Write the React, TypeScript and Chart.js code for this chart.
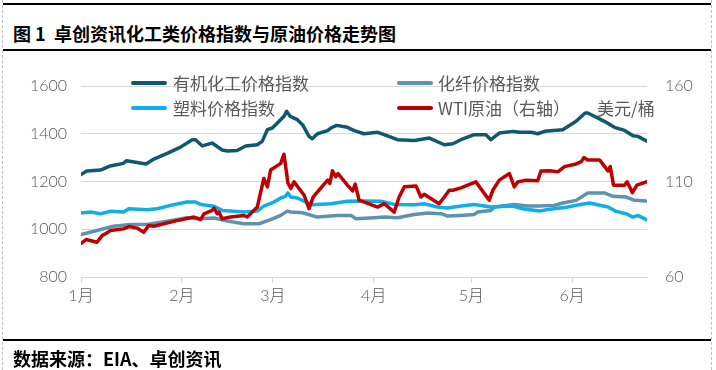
import React, { useEffect, useRef } from "react";
import { Chart, registerables } from "chart.js";

Chart.register(...registerables);

// x = days from the axis start (1月 tick)
const monthTicks = [0, 31, 59, 90, 120, 151];
const monthLabels = ["1月", "2月", "3月", "4月", "5月", "6月"];
const xMax = 174;

const organicDays = [0, 1.8, 6, 9, 13, 14, 20, 22.4, 26.5, 30.6, 34.2, 35.2, 37.3, 40.3, 43.4, 45, 48, 50.6, 54.2, 55.7, 57.3, 58.8, 60.9, 62.4, 63.2, 64.3, 66.5, 68.1, 70.1, 71.1, 72.7, 75.8, 76.8, 78.6, 81.9, 84, 87, 91.2, 93.2, 97.3, 102.5, 107.1, 111.7, 114.3, 116.8, 120.9, 124.5, 126, 128.6, 132.7, 134.8, 138.4, 140.4, 142.5, 148.1, 152.2, 155, 155.8, 160.9, 164, 167.1, 169.7, 171.2, 173.8];
const organicValues = [1229, 1244, 1248, 1265, 1276, 1287, 1273, 1294, 1318, 1344, 1375, 1375, 1349, 1361, 1332, 1328, 1330, 1349, 1354, 1368, 1417, 1424, 1452, 1473, 1494, 1473, 1459, 1438, 1389, 1379, 1400, 1413, 1424, 1435, 1427, 1413, 1400, 1406, 1396, 1375, 1372, 1382, 1354, 1358, 1375, 1396, 1396, 1375, 1403, 1410, 1406, 1406, 1400, 1410, 1417, 1452, 1487, 1487, 1452, 1427, 1414, 1392, 1389, 1370];

const fiberDays = [0, 4.9, 10, 15.2, 20.3, 26.5, 32.6, 36.8, 40.9, 45, 50.1, 54.7, 58.3, 61.4, 63.4, 64.5, 68.1, 72.7, 78.8, 83, 84.5, 90.1, 93.2, 97.3, 102.4, 106.6, 110.7, 112.7, 116.8, 120.9, 121.9, 126, 127.1, 133.2, 137.3, 140.9, 145.5, 148.1, 152.2, 155.8, 160.9, 163.5, 167.6, 170.2, 173.8];
const fiberValues = [978, 995, 1013, 1020, 1020, 1034, 1048, 1044, 1047, 1034, 1023, 1023, 1040, 1058, 1076, 1072, 1069, 1051, 1058, 1058, 1044, 1048, 1051, 1048, 1062, 1068, 1065, 1055, 1058, 1062, 1072, 1079, 1093, 1104, 1097, 1097, 1100, 1110, 1121, 1152, 1152, 1138, 1135, 1121, 1118];

const plasticDays = [0, 2.9, 6, 9, 13.1, 14.7, 20.3, 23.4, 28.5, 32.6, 35.2, 36.8, 40.9, 43.4, 46, 50.1, 54.2, 56.2, 59.3, 61.4, 62.9, 63.6, 64.5, 66.5, 69.1, 71.1, 76.8, 81.9, 87, 92.2, 96.3, 102.4, 105.5, 109.6, 112.7, 116.8, 120.9, 126, 132.7, 135.8, 140.9, 143.5, 149.7, 153.2, 156.3, 162, 164.5, 167.6, 169.7, 171.2, 173.8];
const plasticValues = [1068, 1072, 1065, 1075, 1072, 1086, 1082, 1086, 1103, 1114, 1114, 1104, 1096, 1079, 1076, 1072, 1076, 1097, 1114, 1131, 1138, 1152, 1135, 1131, 1114, 1103, 1107, 1117, 1118, 1117, 1104, 1103, 1107, 1093, 1089, 1097, 1104, 1093, 1097, 1086, 1076, 1083, 1093, 1103, 1110, 1093, 1075, 1065, 1051, 1058, 1040];

const wtiDays = [0, 1.6, 4.9, 6.5, 7.8, 9, 13.1, 14.7, 17.2, 19.3, 20.8, 22.4, 28.5, 34.7, 36.8, 37.8, 40.3, 40.9, 41.9, 42.4, 43.4, 46, 50.1, 51.1, 54.2, 56.2, 57.3, 58.3, 61.4, 62.4, 63.6, 64.5, 65.5, 68.6, 70.1, 71.4, 75.8, 76.5, 77.3, 78.3, 79, 81.9, 83.5, 84.3, 85.5, 91.2, 93.2, 96.3, 97.8, 99.4, 103, 104.5, 105.5, 110.1, 111.7, 113.2, 114.3, 116.8, 121.4, 125.5, 126.6, 128.6, 131.7, 133.2, 134.3, 136.8, 140.4, 141.4, 144, 146.6, 148.6, 152.2, 153.8, 154.6, 155.8, 159.4, 161, 162, 162.7, 163.7, 167.1, 167.9, 169.5, 170.9, 173.8];
const wtiValues = [77.6, 79.6, 78.2, 81.7, 82.9, 84.3, 85.2, 86.4, 85.6, 83.4, 87, 86.6, 89.1, 91.4, 90.1, 93.1, 94.9, 96.1, 93.1, 94, 90.5, 91.4, 92.2, 91.4, 96.6, 111.6, 107.2, 116, 119.5, 124.3, 109.3, 106.3, 109.8, 102.8, 95.8, 101.9, 110.7, 109, 115.6, 112.5, 114.2, 108.1, 105.1, 108.6, 100.2, 96.6, 98.4, 94, 101.9, 107.2, 107.7, 101.9, 103.3, 98.4, 101.9, 105.4, 105.4, 106.7, 109.8, 100.2, 105.4, 110.7, 114.2, 107.2, 109.8, 110.7, 110.4, 115.5, 115.6, 115.1, 117.8, 119.2, 120.4, 122.5, 121.3, 121.3, 117.8, 115.5, 117.8, 108.1, 108.1, 109.8, 104.2, 108.1, 109.8];

const leftTicks = [800, 1000, 1200, 1400, 1600];
const rightTicks = [60, 110, 160];

const seriesNames = ["有机化工价格指数", "化纤价格指数", "塑料价格指数", "WTI原油（右轴）"];
const unitLabel = "美元/桶";
const titleText = "图 1  卓创资讯化工类价格指数与原油价格走势图";
const sourceText = "数据来源：EIA、卓创资讯";

const C_ORGANIC = "#0E5870";
const C_FIBER = "#5E93AD";
const C_PLASTIC = "#12ADE8";
const C_WTI = "#C00000";
const TICK_COLOR = "#595959";
const GRID = "#d9d9d9";
const FONT = "Lato, 'Noto Sans CJK SC', sans-serif";

const pts = (d: number[], v: number[]) => d.map((x, i) => ({ x, y: v[i] }));

export default function App() {
  const ref = useRef<HTMLCanvasElement | null>(null);

  useEffect(() => {
    if (!ref.current) return;
    const tickFont = { size: 16, family: FONT, weight: "300" as any };
    const chart = new Chart(ref.current, {
      type: "line",
      data: {
        datasets: [
          { label: seriesNames[0], data: pts(organicDays, organicValues), borderColor: C_ORGANIC, yAxisID: "y", order: 3 },
          { label: seriesNames[1], data: pts(fiberDays, fiberValues), borderColor: C_FIBER, yAxisID: "y", order: 2 },
          { label: seriesNames[2], data: pts(plasticDays, plasticValues), borderColor: C_PLASTIC, yAxisID: "y", order: 1 },
          { label: seriesNames[3], data: pts(wtiDays, wtiValues), borderColor: C_WTI, yAxisID: "y1", order: 0 },
        ],
      },
      options: {
        responsive: false,
        animation: false,
        devicePixelRatio: 1,
        elements: {
          point: { radius: 0 },
          line: { borderWidth: 3.5, tension: 0, borderJoinStyle: "round", borderCapStyle: "round" },
        },
        layout: { padding: { top: 86, left: 0, right: 0, bottom: 0 } },
        plugins: { legend: { display: false }, tooltip: { enabled: false }, title: { display: false } },
        scales: {
          x: {
            type: "linear",
            min: 0,
            max: xMax,
            afterBuildTicks: (s: any) => {
              s.ticks = monthTicks.map((v) => ({ value: v }));
            },
            afterFit: (s: any) => {
              s.height = 93;
            },
            ticks: {
              autoSkip: false,
              maxRotation: 0,
              padding: 3,
              color: TICK_COLOR,
              font: tickFont,
              callback: (_v: any, i: number) => monthLabels[i],
            },
            grid: { drawOnChartArea: false, drawTicks: true, tickLength: 6, color: GRID },
            border: { color: GRID },
          },
          y: {
            position: "left",
            min: 800,
            max: 1600,
            afterBuildTicks: (s: any) => {
              s.ticks = leftTicks.map((v) => ({ value: v }));
            },
            afterFit: (s: any) => {
              s.width = 81;
            },
            ticks: { padding: 14, color: TICK_COLOR, font: tickFont, callback: (v: any) => String(v) },
            grid: { color: GRID, drawTicks: false },
            border: { display: false },
          },
          y1: {
            position: "right",
            min: 60,
            max: 160,
            afterBuildTicks: (s: any) => {
              s.ticks = rightTicks.map((v) => ({ value: v }));
            },
            afterFit: (s: any) => {
              s.width = 69;
            },
            ticks: { padding: 10, color: TICK_COLOR, font: tickFont, callback: (v: any) => String(v) },
            grid: { display: false },
            border: { display: false },
          },
        },
      },
    });
    return () => chart.destroy();
  }, []);

  const legendText: React.CSSProperties = {
    position: "absolute",
    fontFamily: "'Noto Sans CJK SC', sans-serif",
    fontSize: 17,
    lineHeight: "22px",
    height: 22,
    color: TICK_COLOR,
    whiteSpace: "nowrap",
  };
  const swatch = (left: number, cy: number, color: string): React.CSSProperties => ({
    position: "absolute",
    left,
    top: cy - 2,
    width: 36,
    height: 4,
    background: color,
    borderRadius: 2,
  });
  const hline = (top: number): React.CSSProperties => ({
    position: "absolute",
    left: 3,
    top,
    width: 708,
    height: 2,
    background: "#000",
  });
  const vdash = (left: number): React.CSSProperties => ({
    position: "absolute",
    left,
    top: 0,
    width: 0,
    height: 370,
    borderLeft: "1px dashed #c0c0c0",
  });
  const bold: React.CSSProperties = {
    position: "absolute",
    left: 13,
    fontFamily: "'Noto Sans CJK SC', sans-serif",
    fontWeight: 700,
    fontSize: 18,
    lineHeight: "24px",
    color: "#000",
    whiteSpace: "pre",
  };

  return (
    <div style={{ position: "fixed", left: 0, top: 0, width: 716, height: 370, background: "#fff", overflow: "hidden" }}>
      <div style={vdash(2)} />
      <div style={vdash(711)} />
      <div style={hline(3)} />
      <div style={{ ...bold, top: 21 }}>{titleText}</div>
      <div style={hline(49)} />
      <canvas ref={ref} width={716} height={370} style={{ position: "absolute", left: 0, top: 0, width: 716, height: 370 }} />
      <div style={swatch(131, 83, C_ORGANIC)} />
      <div style={{ ...legendText, left: 173, top: 72 }}>{seriesNames[0]}</div>
      <div style={swatch(397, 83, C_FIBER)} />
      <div style={{ ...legendText, left: 438, top: 72 }}>{seriesNames[1]}</div>
      <div style={swatch(131, 108, C_PLASTIC)} />
      <div style={{ ...legendText, left: 173, top: 97 }}>{seriesNames[2]}</div>
      <div style={swatch(397, 108, C_WTI)} />
      <div style={{ ...legendText, left: 438, top: 97 }}>{seriesNames[3]}</div>
      <div style={{ ...legendText, left: 597, top: 97 }}>{unitLabel}</div>
      <div style={hline(339)} />
      <div style={{ ...bold, top: 346 }}>{sourceText}</div>
    </div>
  );
}
